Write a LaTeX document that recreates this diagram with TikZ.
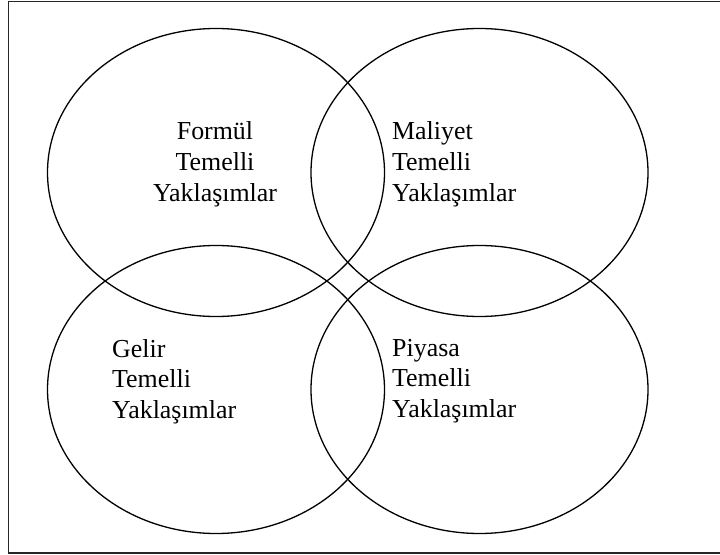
\documentclass[tikz,border=0pt]{standalone}
\usepackage{fontspec}
\setmainfont{Liberation Serif}
\usetikzlibrary{shapes.geometric}
\begin{document}
\begin{tikzpicture}[x=1bp,y=-1bp,
  venn/.style={draw=black, line width=1.3bp, ellipse, inner sep=0pt,
    minimum width=337bp, minimum height=288bp},
  lbl/.style={inner sep=0pt, anchor=base, font=\fontsize{26}{31}\selectfont},
  frame/.style={draw=black!85, line width=1.6bp}]
\useasboundingbox (0,0) rectangle (720,555);
\fill[white] (0,0) rectangle (720,555);
\coordinate (ftr) at (730,1.5);
\coordinate (ftl) at (8.5,1.5);
\coordinate (fbl) at (8.5,553);
\coordinate (fbr) at (730,553);
\draw[frame] (ftr) -- (ftl) -- (fbl) -- (fbr);
\node[venn] (formul) at (216,172.5) {};
\node[venn] (maliyet) at (479.5,172.5) {};
\node[venn] (gelir) at (216,389.5) {};
\node[venn] (piyasa) at (479.5,389.5) {};
\node[lbl] (tformul) at (215,140) {\begin{tabular}[t]{@{}c@{}}Formül\\Temelli\\Yaklaşımlar\end{tabular}};
\node[lbl, anchor=base west] (tmaliyet) at (392,140) {\begin{tabular}[t]{@{}l@{}}Maliyet\\Temelli\\Yaklaşımlar\end{tabular}};
\node[lbl, anchor=base west] (tgelir) at (112,357) {\begin{tabular}[t]{@{}l@{}}Gelir\\Temelli\\Yaklaşımlar\end{tabular}};
\node[lbl, anchor=base west] (tpiyasa) at (392,356) {\begin{tabular}[t]{@{}l@{}}Piyasa\\Temelli\\Yaklaşımlar\end{tabular}};
\end{tikzpicture}
\end{document}
